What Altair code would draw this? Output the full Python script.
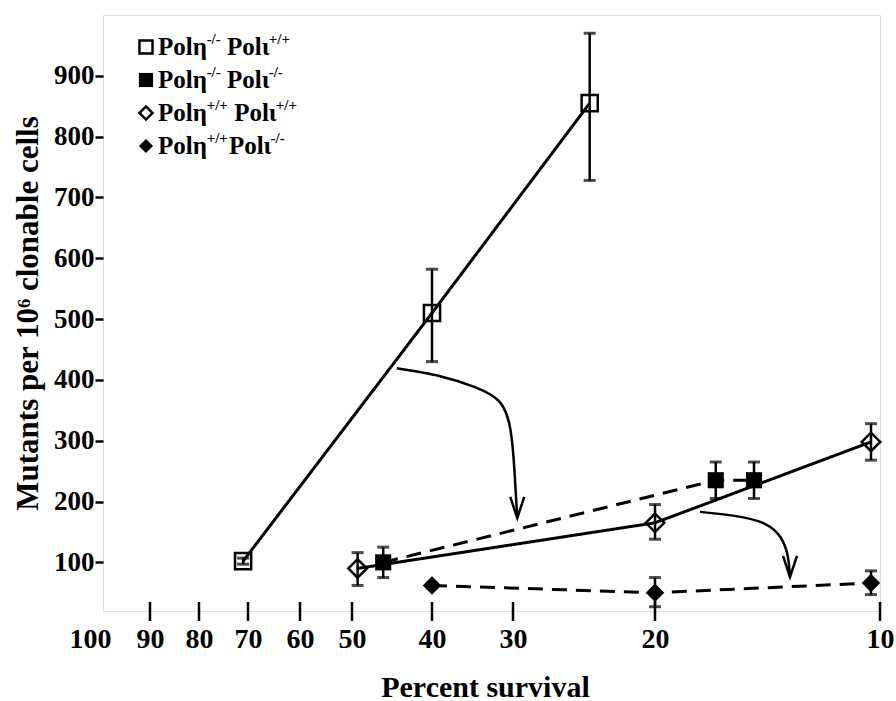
import altair as alt
import pandas as pd

FONT = "Liberation Serif"

# Percent-survival axis: tick values and where each one sits along the axis (px)
tick_vals = [100, 90, 80, 70, 60, 50, 40, 30, 20, 10]
tick_pos = [-13, 47, 96, 145, 197, 249, 329, 410, 552, 777]
y_ticks = [100, 200, 300, 400, 500, 600, 700, 800, 900]

# Genotypes
genotypes = ["eta_ko_iota_wt", "eta_ko_iota_ko", "eta_wt_iota_wt", "eta_wt_iota_ko"]
legend_sup1 = ["-/-", "-/-", "+/+", "+/+"]
legend_sup2 = ["+/+", "-/-", "+/+", "-/-"]
legend_gap = [True, True, True, False]
marker_shape = ["square", "square", "diamond", "diamond"]
marker_filled = [False, True, False, True]
line_dash = ["solid", "dashed", "solid", "dashed"]

# Percent survival, mutants per 10^6 clonable cells, error-bar bounds
eta_ko_iota_wt_x = [71.0, 40.0, 24.6]
eta_ko_iota_wt_y = [102, 510, 855]
eta_ko_iota_wt_lo = [97, 430, 728]
eta_ko_iota_wt_hi = [107, 582, 970]

eta_ko_iota_ko_x = [46.1, 17.3, 15.6]
eta_ko_iota_ko_y = [100, 235, 235]
eta_ko_iota_ko_lo = [75, 205, 205]
eta_ko_iota_ko_hi = [125, 265, 265]

eta_wt_iota_wt_x = [49.3, 20.0, 10.4]
eta_wt_iota_wt_y = [90, 165, 298]
eta_wt_iota_wt_lo = [62, 138, 268]
eta_wt_iota_wt_hi = [116, 195, 328]

eta_wt_iota_ko_x = [40.0, 20.0, 10.4]
eta_wt_iota_ko_y = [62, 50, 66]
eta_wt_iota_ko_lo = [58, 27, 47]
eta_wt_iota_ko_hi = [66, 75, 86]

# Curved annotation arrows (percent survival, mutants)
arrow1_x = [44.4, 39.0, 34.7, 31.6, 30.3, 29.9, 29.7]
arrow1_y = [419, 406, 388, 363, 317, 252, 173]
arrow2_x = [18.0, 16.4, 15.1, 14.4, 14.1, 14.0]
arrow2_y = [183, 176, 163, 140, 110, 76]

series = {
    "eta_ko_iota_wt": (eta_ko_iota_wt_x, eta_ko_iota_wt_y, eta_ko_iota_wt_lo, eta_ko_iota_wt_hi),
    "eta_ko_iota_ko": (eta_ko_iota_ko_x, eta_ko_iota_ko_y, eta_ko_iota_ko_lo, eta_ko_iota_ko_hi),
    "eta_wt_iota_wt": (eta_wt_iota_wt_x, eta_wt_iota_wt_y, eta_wt_iota_wt_lo, eta_wt_iota_wt_hi),
    "eta_wt_iota_ko": (eta_wt_iota_ko_x, eta_wt_iota_ko_y, eta_wt_iota_ko_lo, eta_wt_iota_ko_hi),
}

rows = []
for i, g in enumerate(genotypes):
    xs, ys, los, his = series[g]
    for x, y, lo, hi in zip(xs, ys, los, his):
        rows.append({
            "group": g, "survival": x, "mutants": y, "lo": lo, "hi": hi,
            "shape": marker_shape[i], "filled": marker_filled[i],
            "dash": line_dash[i],
            "msize": 260 if marker_shape[i] == "square" else 340,
        })
df = pd.DataFrame(rows)

arrow_rows = []
for name, xs, ys in [("a1", arrow1_x, arrow1_y), ("a2", arrow2_x, arrow2_y)]:
    for k, (x, y) in enumerate(zip(xs, ys)):
        arrow_rows.append({"arrow": name, "idx": k, "survival": x, "mutants": y,
                           "tip": k == len(xs) - 1})
df_arrows = pd.DataFrame(arrow_rows)

df_ticks = pd.DataFrame({"survival": tick_vals[1:]})

x_scale = alt.Scale(domain=tick_vals, range=tick_pos, nice=False, zero=False)
y_scale = alt.Scale(domain=[20, 1000], nice=False, zero=False)

x_axis = alt.Axis(
    values=tick_vals, format="d", title="Percent survival", domain=False, ticks=False,
    grid=False, labelFont=FONT, labelFontWeight="bold", labelFontSize=28,
    labelColor="black", labelPadding=14, labelFlush=False, labelOverlap=False,
    titleFont=FONT, titleFontWeight="bold", titleFontSize=30, titleColor="black",
    titlePadding=19,
)
y_axis = alt.Axis(
    values=y_ticks, format="d", title="Mutants per 10\u2076 clonable cells",
    domain=False, grid=False, tickSize=8, tickWidth=2.5, tickColor="black",
    labelFont=FONT, labelFontWeight="bold", labelFontSize=27, labelColor="black",
    labelPadding=1, titleFont=FONT, titleFontWeight="bold", titleFontSize=31,
    titleColor="black", titlePadding=9,
)

X = alt.X("survival:Q", scale=x_scale, axis=x_axis)
Xn = alt.X("survival:Q")
Y = alt.Y("mutants:Q", scale=y_scale, axis=y_axis)

base = alt.Chart(df)

lines = base.mark_line(color="black", strokeWidth=3).encode(
    x=X, y=Y, detail="group:N",
    strokeDash=alt.StrokeDash(
        "dash:N",
        scale=alt.Scale(domain=["solid", "dashed"], range=[[1, 0], [15, 9]]),
        legend=None,
    ),
)

err_rules = base.mark_rule(color="black", strokeWidth=2.5).encode(
    x=Xn, y=alt.Y("lo:Q"), y2="hi:Q"
)
cap_lo = base.mark_tick(color="black", orient="horizontal", size=12, thickness=3).encode(
    x=Xn, y=alt.Y("lo:Q")
)
cap_hi = base.mark_tick(color="black", orient="horizontal", size=12, thickness=3).encode(
    x=Xn, y=alt.Y("hi:Q")
)

open_pts = base.transform_filter("!datum.filled").mark_point(
    filled=False, color="black", strokeWidth=2.5, opacity=1
).encode(
    x=Xn, y=alt.Y("mutants:Q"),
    shape=alt.Shape("shape:N", scale=None),
    size=alt.Size("msize:Q", scale=None),
)
filled_pts = base.transform_filter("datum.filled").mark_point(
    filled=True, color="black", opacity=1
).encode(
    x=Xn, y=alt.Y("mutants:Q"),
    shape=alt.Shape("shape:N", scale=None),
    size=alt.Size("msize:Q", scale=None),
)

arrows = alt.Chart(df_arrows).mark_line(
    color="black", strokeWidth=2.5, interpolate="natural"
).encode(x=Xn, y=alt.Y("mutants:Q"), detail="arrow:N", order="idx:Q")

arrow_heads = alt.Chart(df_arrows).transform_filter("datum.tip").mark_point(
    shape="M-1,-3L0,0L1,-3", filled=False, color="black", strokeWidth=2.5,
    size=196, opacity=1,
).encode(x=Xn, y=alt.Y("mutants:Q"))

axis_ticks = alt.Chart(df_ticks).mark_rule(color="black", strokeWidth=2.5).encode(
    x=Xn, y=alt.value(587), y2=alt.value(606)
)

# Legend block drawn inside the plot (px within the plot area)
def text_width(s, fs):
    w = {"P": 0.611, "o": 0.5, "l": 0.278, "\u03b7": 0.556, "\u03b9": 0.278,
         " ": 0.25, "-": 0.333, "/": 0.278, "+": 0.570}
    return sum(w.get(c, 0.5) for c in s) * fs

LEG_X = 43
LEG_Y0 = 32
LEG_DY = 33
MAIN_FS = 25
SUP_FS = 15

leg_text, leg_sym = [], []
for i in range(len(genotypes)):
    yy = LEG_Y0 + i * LEG_DY
    leg_sym.append({"px": LEG_X, "py": yy, "shape": marker_shape[i],
                    "filled": marker_filled[i]})
    x0 = LEG_X + 12
    pieces = [("Pol\u03b7", MAIN_FS, 0, 0), (legend_sup1[i], SUP_FS, -8, 0),
              ("Pol\u03b9", MAIN_FS, 0, 0.25 * MAIN_FS if legend_gap[i] else 1),
              (legend_sup2[i], SUP_FS, -8, 0)]
    for txt, fs, dy, gap in pieces:
        x0 += gap
        leg_text.append({"txt": txt, "px": x0, "py": yy + dy, "fs": fs})
        x0 += text_width(txt, fs)
df_leg_text = pd.DataFrame(leg_text)
df_leg_sym = pd.DataFrame(leg_sym)

legend_text = alt.Chart(df_leg_text).mark_text(
    align="left", baseline="middle", font=FONT, fontWeight="bold", color="black"
).encode(
    x=alt.X("px:Q", scale=None, axis=None),
    y=alt.Y("py:Q", scale=None, axis=None),
    text="txt:N",
    size=alt.Size("fs:Q", scale=None),
)
legend_open = alt.Chart(df_leg_sym).transform_filter("!datum.filled").mark_point(
    filled=False, color="black", strokeWidth=2.5, size=170, opacity=1
).encode(
    x=alt.X("px:Q", scale=None, axis=None),
    y=alt.Y("py:Q", scale=None, axis=None),
    shape=alt.Shape("shape:N", scale=None),
)
legend_filled = alt.Chart(df_leg_sym).transform_filter("datum.filled").mark_point(
    filled=True, color="black", size=200, opacity=1
).encode(
    x=alt.X("px:Q", scale=None, axis=None),
    y=alt.Y("py:Q", scale=None, axis=None),
    shape=alt.Shape("shape:N", scale=None),
)

chart = alt.layer(
    lines, err_rules, cap_lo, cap_hi, open_pts, filled_pts, arrows, arrow_heads,
    axis_ticks, legend_text, legend_open, legend_filled,
).properties(
    width=777, height=596,
    autosize=alt.AutoSizeParams(type="none"),
    padding={"left": 103, "top": 15, "right": 16, "bottom": 90},
).configure_view(
    stroke="black", strokeWidth=3
).configure(background="white")

chart.save("out.html", embed_options={"renderer": "svg", "actions": False})
